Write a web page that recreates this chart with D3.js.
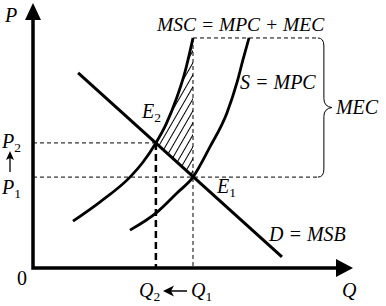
<!DOCTYPE html>
<html><head><meta charset="utf-8">
<script src="https://cdn.jsdelivr.net/npm/d3@7"></script>
<style>
body{margin:0;background:#fff}
svg{display:block}
</style>
</head><body><svg id="c" width="386" height="306"></svg>
<script>
// ---- data (Q and P in chart units) ----
const demandQ = [1.41, 7.78];
const demandP = [7.36, 0.42];
const mpcQ = [3.03, 3.88, 4.5, 5.0, 5.53, 6.06, 6.38, 6.56, 6.75];
const mpcP = [1.43, 2.11, 2.83, 3.43, 4.57, 5.85, 7.02, 7.85, 8.68];
const mscQ = [1.25, 2.09, 3.03, 3.44, 3.84, 4.16, 4.5, 4.75, 5.0];
const mscP = [1.77, 2.49, 3.43, 4.0, 4.72, 5.43, 6.45, 7.40, 8.68];
const eqQ = [5.0, 3.84];   // Q1, Q2
const eqP = [3.43, 4.72];  // P1, P2
const mecTopP = 8.68;
const bracketQ = 9.09;
const curveLabels = ["MSC = MPC + MEC", "S = MPC", "D = MSB", "MEC"];

const FONT = "'Liberation Serif', 'Times New Roman', serif";
const svg = d3.select("#c");
const x = d3.scaleLinear().domain([0, 10]).range([33, 353]);
const y = d3.scaleLinear().domain([0, 10]).range([268, 3]);

const zip = (a, b) => a.map((v, i) => [v, b[i]]);
const line = d3.line().x(d => x(d[0])).y(d => y(d[1])).curve(d3.curveMonotoneX);
const straight = d3.line().x(d => x(d[0])).y(d => y(d[1]));

// hatch pattern
const defs = svg.append("defs");
const pat = defs.append("pattern").attr("id", "hatch").attr("patternUnits", "userSpaceOnUse")
  .attr("width", 6).attr("height", 6).attr("patternTransform", "rotate(30)");
pat.append("line").attr("x1", 0.5).attr("y1", 0).attr("x2", 0.5).attr("y2", 6)
  .attr("stroke", "#000").attr("stroke-width", 1);

const [Q1, Q2] = eqQ, [P1, P2] = eqP;
const mscPts = zip(mscQ, mscP);
const hatchPts = mscPts.filter(d => d[0] >= Q2);
svg.append("path")
  .attr("d", line(hatchPts) + "L" + x(Q1) + "," + y(P1) + "Z")
  .attr("fill", "url(#hatch)").attr("stroke", "none");

// dashed guides
const thin = {stroke: "#000", "stroke-width": 1, "stroke-dasharray": "4,3", fill: "none"};
function seg(pts, st) {
  const p = svg.append("path").attr("d", straight(pts));
  Object.entries(st).forEach(([k, v]) => p.attr(k, v));
  return p;
}
const bx = x(bracketQ);
seg([[0, P2], [Q2, P2]], thin);
seg([[0, P1], [x.invert(bx - 6), P1]], thin);
seg([[Q1, mecTopP], [Q1, 0]], thin);
seg([[Q1, mecTopP], [x.invert(bx - 6), mecTopP]], thin);
seg([[Q2, P2], [Q2, 0]], {stroke: "#000", "stroke-width": 2.5, "stroke-dasharray": "7,4", fill: "none"});

// brace
const yt = y(mecTopP), yb = y(P1), ym = (yt + yb) / 2;
svg.append("path")
  .attr("d", `M${bx - 6},${yt} Q${bx},${yt} ${bx},${yt + 8} L${bx},${ym - 9} Q${bx},${ym - 1} ${bx + 8},${ym} Q${bx},${ym + 1} ${bx},${ym + 9} L${bx},${yb - 8} Q${bx},${yb} ${bx - 6},${yb}`)
  .attr("fill", "none").attr("stroke", "#000").attr("stroke-width", 1);

// curves
svg.append("path").attr("d", line(mscPts)).attr("fill", "none").attr("stroke", "#000").attr("stroke-width", 2.8);
svg.append("path").attr("d", line(zip(mpcQ, mpcP))).attr("fill", "none").attr("stroke", "#000").attr("stroke-width", 2.8);
svg.append("path").attr("d", straight(zip(demandQ, demandP))).attr("fill", "none").attr("stroke", "#000").attr("stroke-width", 3);

// axes
const x0 = x(0), y0 = y(0), yTop = y(10), xEnd = x(10);
svg.append("path").attr("d", `M${x0},${yTop + 15}V${y0}H${xEnd - 15}`)
  .attr("fill", "none").attr("stroke", "#000").attr("stroke-width", 3.5);
svg.append("path").attr("d", `M${x0},${yTop} L${x0 - 8},${yTop + 17} L${x0 + 8},${yTop + 17}Z`).attr("fill", "#000");
svg.append("path").attr("d", `M${xEnd},${y0} L${xEnd - 17},${y0 - 9} L${xEnd - 17},${y0 + 9}Z`).attr("fill", "#000");

// labels
function lab(px, py, main, sub, size = 20, italic = true) {
  const t = svg.append("text").attr("x", px).attr("y", py)
    .attr("font-family", FONT).attr("font-size", size)
    .attr("font-style", italic ? "italic" : "normal").attr("fill", "#000");
  t.append("tspan").text(main);
  if (sub) t.append("tspan").attr("dy", 4).attr("font-size", 13.5).attr("font-style", "normal").text(sub);
  return t;
}
lab(5, 22, "P");
lab(2, 148, "P", "2");
lab(2, 194, "P", "1");
lab(17, 285, "0", null, 20, false);
lab(139, 297, "Q", "2");
lab(191, 297, "Q", "1");
lab(342, 297, "Q");
lab(142, 118, "E", "2");
lab(217, 193, "E", "1");
lab(157, 31, curveLabels[0], null, 19.5);
lab(240, 89, curveLabels[1]);
lab(269, 241, curveLabels[2]);
lab(bx + 12, 114, curveLabels[3]);

// small arrows
svg.append("path").attr("d", "M187,291H168").attr("stroke", "#000").attr("stroke-width", 1.5);
svg.append("path").attr("d", "M163,291 L174,285.5 L171,291 L174,296.5Z").attr("fill", "#000");
svg.append("path").attr("d", "M10,172V156").attr("stroke", "#000").attr("stroke-width", 1.3);
svg.append("path").attr("d", "M10,151 L6,160 L10,158 L14,160Z").attr("fill", "#000");
</script></body></html>
